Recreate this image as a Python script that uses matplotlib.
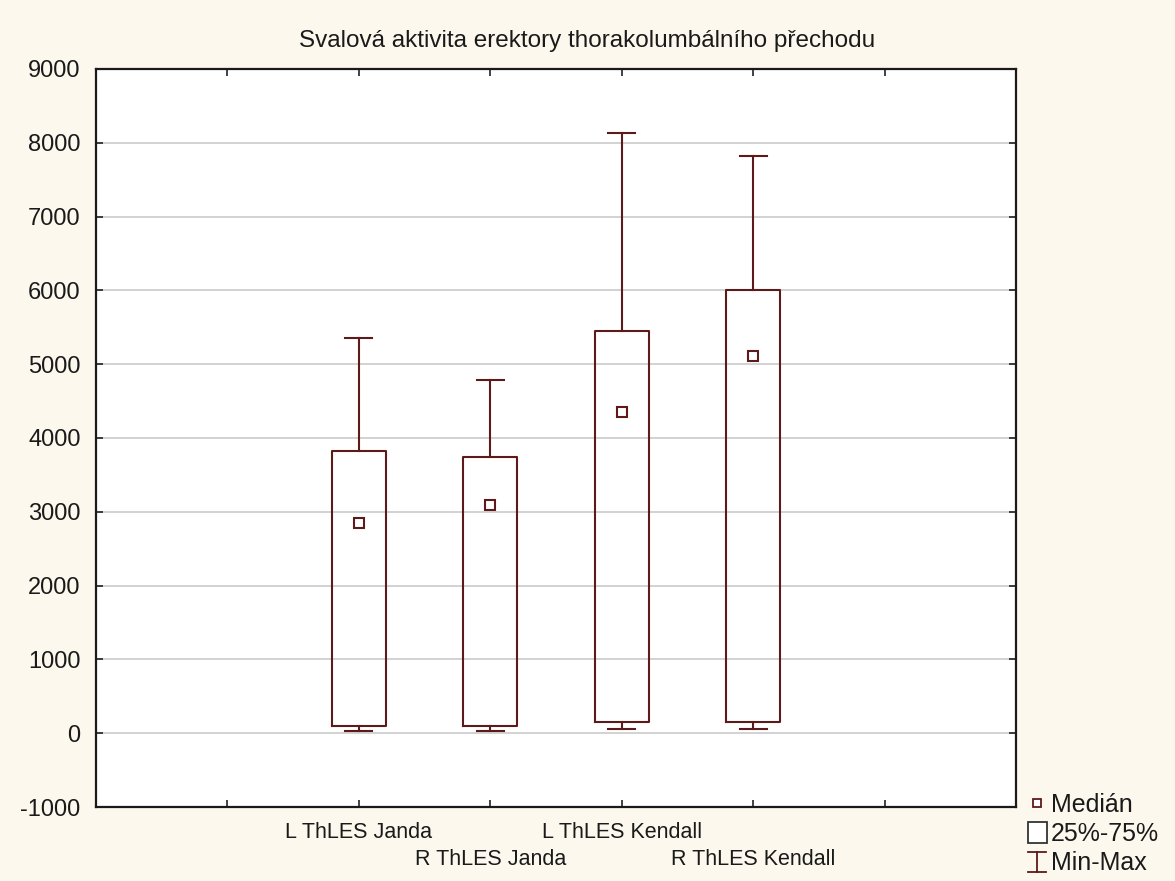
import matplotlib
matplotlib.use("Agg")
import matplotlib.pyplot as plt
from matplotlib.lines import Line2D
from matplotlib.patches import Rectangle
from matplotlib.legend_handler import HandlerBase

# ---- data ----
categories = ["L ThLES Janda", "R ThLES Janda", "L ThLES Kendall", "R ThLES Kendall"]
minimum = [25, 25, 55, 55]
q1 = [100, 100, 155, 155]
median = [2843, 3092, 4347, 5106]
q3 = [3818, 3746, 5454, 6011]
maximum = [5350, 4786, 8127, 7825]
positions = [2, 3, 4, 5]
title = "Svalová aktivita erektory thorakolumbálního přechodu"
legend_labels = ["Medián", "25%-75%", "Min-Max"]

plt.rcParams['font.family'] = ['Liberation Sans', 'DejaVu Sans']
plt.rcParams['axes.unicode_minus'] = False
col = '#5e1a1a'
bg = '#fcf8ee'
txt = '#1a1a1a'

fig = plt.figure(figsize=(11.75, 8.81), dpi=100, facecolor=bg)
ax = fig.add_axes([96/1175, 1-807/881, (1016-96)/1175, (807-69)/881])
ax.set_facecolor('white')

stats = []
for i in range(len(categories)):
    stats.append(dict(med=median[i], q1=q1[i], q3=q3[i],
                      whislo=minimum[i], whishi=maximum[i], label=categories[i]))

lw = 1.5
ax.bxp(stats, positions=positions, widths=0.41, capwidths=0.205,
       showfliers=False, manage_ticks=False,
       boxprops=dict(color=col, linewidth=lw),
       whiskerprops=dict(color=col, linewidth=lw),
       capprops=dict(color=col, linewidth=lw),
       medianprops=dict(linewidth=0))
ax.plot(positions, median, ls='', marker='s', ms=7, mfc='white', mec=col, mew=1.5, zorder=5)

ax.set_xlim(0, 7)
ax.set_ylim(-1000, 9000)
ax.set_yticks(range(-1000, 9001, 1000))
# staggered category labels: first row on major ticks, second row on minor ticks
ax.set_xticks([1, positions[0], positions[2], 6])
ax.set_xticklabels(['', categories[0], categories[2], ''])
ax.set_xticks([positions[1], positions[3]], minor=True)
ax.set_xticklabels([categories[1], categories[3]], minor=True)
ax.yaxis.grid(True, color='#cfcfcf', linewidth=1.3)
ax.set_axisbelow(True)
ax.tick_params(which='both', direction='in', top=True, right=True, length=5, width=1.2,
               color='#222222', labelcolor=txt)
ax.tick_params(axis='y', pad=11, labelsize=17)
ax.tick_params(axis='x', which='major', pad=11, labelsize=15.5)
ax.tick_params(axis='x', which='minor', pad=30, labelsize=15.5)
for s in ax.spines.values():
    s.set_linewidth(1.6)
    s.set_color(txt)

fig.text(0.5, 1 - 41/881, title, fontsize=17.5, color=txt, ha='center', va='center')


class IBarHandler(HandlerBase):
    def create_artists(self, legend, orig_handle, xdescent, ydescent, width, height, fontsize, trans):
        cx = -xdescent + width / 2
        y0 = -ydescent
        y1 = -ydescent + height
        hw = width * 0.45
        l1 = Line2D([cx, cx], [y0, y1], color=col, lw=1.3, transform=trans)
        l2 = Line2D([cx - hw, cx + hw], [y0, y0], color=col, lw=1.3, transform=trans)
        l3 = Line2D([cx - hw, cx + hw], [y1, y1], color=col, lw=1.3, transform=trans)
        return [l1, l2, l3]


class SmallSquareHandler(HandlerBase):
    def create_artists(self, legend, orig_handle, xdescent, ydescent, width, height, fontsize, trans):
        cx = -xdescent + width / 2
        cy = -ydescent + height / 2
        m = Line2D([cx], [cy], ls='', marker='s', ms=6, mfc='white', mec=col, mew=1.3, transform=trans)
        return [m]


class BoxHandler(HandlerBase):
    def create_artists(self, legend, orig_handle, xdescent, ydescent, width, height, fontsize, trans):
        r = Rectangle((-xdescent, -ydescent), width, height, facecolor='white',
                      edgecolor='#333333', lw=1.3, transform=trans)
        return [r]


class _H1: pass
class _H2: pass
class _H3: pass

h1, h2, h3 = _H1(), _H2(), _H3()
fig.legend([h1, h2, h3], legend_labels, loc='lower left',
           bbox_to_anchor=(1010/1175, -12/881), frameon=False,
           handlelength=0.78, handleheight=0.88, handletextpad=0.15, labelspacing=0.22,
           borderpad=0.2, prop={'size': 18},
           handler_map={_H1: SmallSquareHandler(), _H2: BoxHandler(), _H3: IBarHandler()})
for t in fig.legends[0].get_texts():
    t.set_color(txt)

fig.savefig('out.png', dpi=100, facecolor=bg)
